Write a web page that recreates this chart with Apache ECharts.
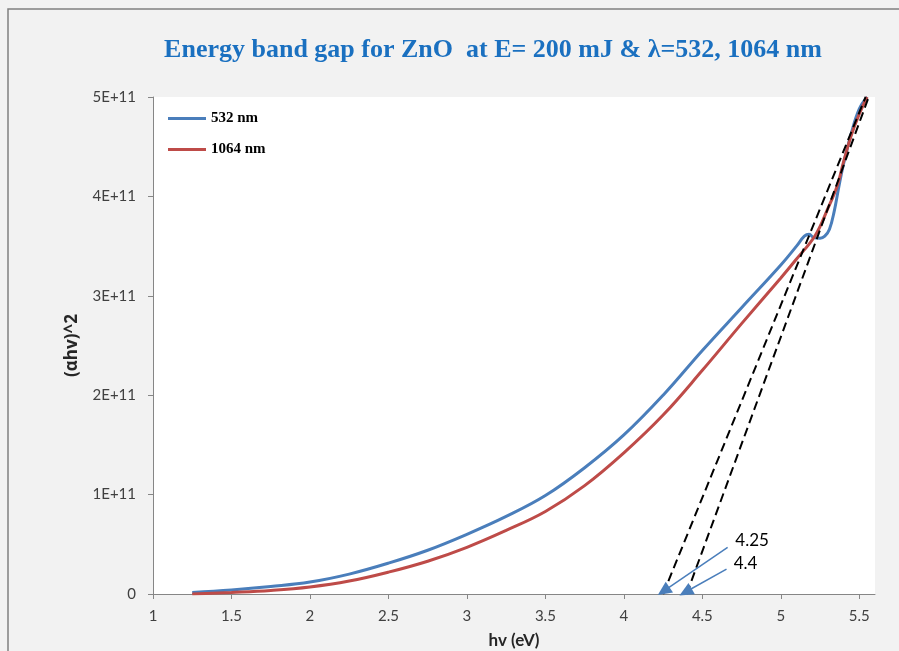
<!DOCTYPE html>
<html>
<head>
<meta charset="utf-8">
<script src="https://cdn.jsdelivr.net/npm/echarts@6/dist/echarts.min.js"></script>
<style>
html,body{margin:0;padding:0;background:#f2f2f2;overflow:hidden;}
#c{width:899px;height:651px;}
</style>
</head>
<body>
<div id="c"></div>
<script>
// ---- data (y values in units of 1E+11) ----
const titleText = 'Energy band gap for ZnO  at E= 200 mJ & λ=532, 1064 nm';
const seriesNames = ['532 nm', '1064 nm'];
const xBlue = [1.25,1.5,1.75,2,2.25,2.5,2.75,3,3.25,3.5,3.75,4,4.25,4.5,4.75,5,5.1,5.15,5.18,5.21,5.25,5.28,5.31,5.34,5.37,5.4,5.45,5.5,5.55];
const yBlue = [0.015,0.04,0.075,0.12,0.20,0.31,0.44,0.60,0.78,0.99,1.27,1.60,2.00,2.45,2.88,3.31,3.50,3.60,3.62,3.585,3.58,3.60,3.67,3.85,4.10,4.33,4.64,4.88,5.0];
const xRed = [1.25,1.5,1.75,2,2.25,2.5,2.75,3,3.25,3.5,3.75,4,4.25,4.5,4.75,5,5.1,5.22,5.3,5.36,5.4,5.45,5.5,5.55];
const yRed = [0,0.015,0.035,0.07,0.13,0.22,0.33,0.47,0.64,0.83,1.09,1.42,1.80,2.25,2.72,3.18,3.37,3.61,3.88,4.11,4.35,4.62,4.83,5.0];
// tangent (extrapolation) lines
const tan1X = [4.25, 5.54], tan1Y = [0, 5];
const tan2X = [4.4, 5.56], tan2Y = [0, 5];
// annotations
const annoLabels = ['4.25', '4.4'];
const annoTextX = [4.71, 4.70], annoTextY = [0.54, 0.31];
const arrowFromX = [4.661, 4.654], arrowFromY = [0.47, 0.25];
const arrowToX = [4.253, 4.393], arrowToY = [0.03, 0.02];
const xTicks = [1,1.5,2,2.5,3,3.5,4,4.5,5,5.5];
const E = 1e11;

const pairs = (xs, ys) => xs.map((x, i) => [x, ys[i] * E]);

const chart = echarts.init(document.getElementById('c'));
const labelFont = 'Lato, "Open Sans", sans-serif';
chart.setOption({
  backgroundColor: '#f2f2f2',
  animation: false,
  graphic: [
    { type: 'polyline', shape: { points: [[8, 651], [8, 9], [899, 9]] },
      style: { fill: 'none', stroke: '#808080', lineWidth: 1.5 }, silent: true },
    { type: 'text', x: 493, y: 50,
      style: { text: titleText, fill: '#1a70c0', font: 'bold 26px "Liberation Serif", "Times New Roman", serif',
               textAlign: 'center', textVerticalAlign: 'middle' } }
  ],
  grid: { left: 153, top: 97, right: 24, bottom: 57, show: true, backgroundColor: '#ffffff', borderWidth: 0,
          containLabel: false, outerBoundsMode: 'none' },
  legend: {
    orient: 'vertical', left: 168, top: 111, padding: 0, itemWidth: 38, itemHeight: 3, itemGap: 16,
    icon: 'rect',
    textStyle: { fontFamily: '"Liberation Serif", serif', fontWeight: 'bold', fontSize: 15, color: '#000' },
    data: seriesNames
  },
  xAxis: {
    type: 'value', min: 1, max: 5.6, interval: 0.5,
    name: 'hv (eV)', nameLocation: 'middle', nameGap: 38,
    nameTextStyle: { fontFamily: labelFont, fontWeight: 'bold', fontSize: 17, color: '#262626' },
    axisLine: { lineStyle: { color: '#868686', width: 1 } },
    axisTick: { customValues: xTicks, length: 5, lineStyle: { color: '#868686' } },
    axisLabel: { customValues: xTicks, margin: 15, fontFamily: labelFont, fontSize: 15, color: '#404040',
                 formatter: v => String(v) },
    splitLine: { show: false }
  },
  yAxis: {
    type: 'value', min: 0, max: 5 * E, interval: E,
    name: '(αhv)^2', nameLocation: 'middle', nameGap: 72, nameRotate: 90,
    nameTextStyle: { fontFamily: '"Open Sans", sans-serif', fontWeight: 'bold', fontSize: 17, color: '#262626' },
    axisLine: { show: true, lineStyle: { color: '#868686', width: 1 } },
    axisTick: { show: true, length: 5, lineStyle: { color: '#868686' } },
    axisLabel: { margin: 17, fontFamily: labelFont, fontSize: 15, color: '#404040',
                 formatter: v => v === 0 ? '0' : Math.round(v / E) + 'E+11' },
    splitLine: { show: false }
  },
  series: [
    { name: seriesNames[0], type: 'line', data: pairs(xBlue, yBlue), showSymbol: false, smooth: 0.4,
      lineStyle: { color: '#4a7ebb', width: 3 }, itemStyle: { color: '#4a7ebb' }, z: 2 },
    { name: seriesNames[1], type: 'line', data: pairs(xRed, yRed), showSymbol: false, smooth: 0.4,
      lineStyle: { color: '#be4b48', width: 3 }, itemStyle: { color: '#be4b48' }, z: 2 },
    { name: 'tan1', type: 'line', data: pairs(tan1X, tan1Y), showSymbol: false,
      lineStyle: { color: '#000', width: 2, type: [9, 5] }, z: 3 },
    { name: 'tan2', type: 'line', data: pairs(tan2X, tan2Y), showSymbol: false,
      lineStyle: { color: '#000', width: 2, type: [9, 5] }, z: 3 },
    { name: 'anno', type: 'scatter', symbolSize: 0, z: 5, itemStyle: { opacity: 1 },
      data: annoLabels.map((t, i) => [annoTextX[i], annoTextY[i] * E, t]),
      label: { show: true, position: 'right', distance: 0, formatter: p => p.value[2],
               fontFamily: labelFont, fontSize: 17, color: '#000000' },
      markLine: {
        silent: true, animation: false,
        lineStyle: { color: '#4a7ebb', width: 1.5, type: 'solid', opacity: 1 },
        label: { show: false },
        data: arrowFromX.map((x, i) => [
          { coord: [x, arrowFromY[i] * E], symbol: 'none' },
          { coord: [arrowToX[i], arrowToY[i] * E], symbol: 'triangle', symbolSize: [13, 14] }
        ])
      }
    }
  ]
});
</script>
</body>
</html>
